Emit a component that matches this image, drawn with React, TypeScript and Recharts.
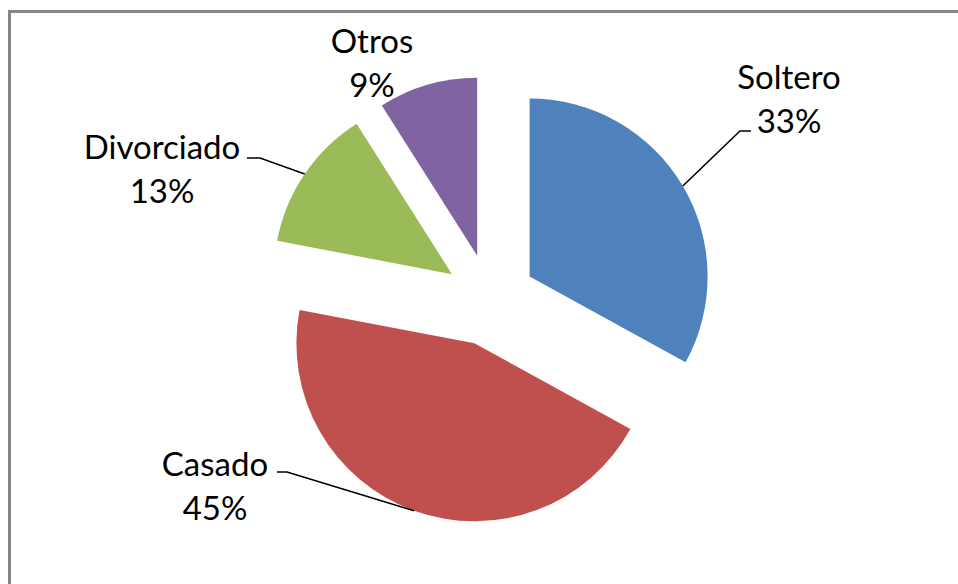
import { PieChart, Pie, Cell, Sector } from "recharts";

const categories = ["Soltero", "Casado", "Divorciado", "Otros"];
const shares = [33, 45, 13, 9];
const colors = ["#4F81BD", "#C0504D", "#9BBB59", "#8064A2"];

// label placement relative to the pie centre (Excel "best fit" look)
const labelSpots = [
  { dx: 299, dy: -202, elbow: [250, -169], end: [261, -169] },
  { dx: -275, dy: 185, elbow: [-203, 172], end: [-213, 172] },
  { dx: -328, dy: -132, elbow: [-230, -142], end: [-243, -142] },
  { dx: -118, dy: -238, elbow: null, end: null },
];

const data = categories.map((name, i) => ({ name, value: shares[i] }));

const EXPLODE = 46;
const RAD = Math.PI / 180;
const FONT = "Lato, 'Liberation Sans', sans-serif";

const ExplodedSlice = (props: any) => {
  const { cx, cy, midAngle, outerRadius, startAngle, endAngle, fill } = props;
  const ox = EXPLODE * Math.cos(-midAngle * RAD);
  const oy = EXPLODE * Math.sin(-midAngle * RAD);
  return (
    <Sector
      cx={cx + ox}
      cy={cy + oy}
      innerRadius={0}
      outerRadius={outerRadius}
      startAngle={startAngle}
      endAngle={endAngle}
      fill={fill}
      stroke="none"
    />
  );
};

const renderLabel = (props: any) => {
  const { cx, cy, midAngle, outerRadius, index, percent } = props;
  const spot = labelSpots[index];
  const r = outerRadius + EXPLODE;
  const sx = cx + r * Math.cos(-midAngle * RAD);
  const sy = cy + r * Math.sin(-midAngle * RAD);
  const tx = cx + spot.dx;
  const ty = cy + spot.dy;
  return (
    <g key={`lbl-${index}`}>
      {spot.elbow && spot.end && (
        <polyline
          points={`${sx},${sy} ${cx + spot.elbow[0]},${cy + spot.elbow[1]} ${cx + spot.end[0]},${cy + spot.end[1]}`}
          fill="none"
          stroke="#000"
          strokeWidth={1.6}
        />
      )}
      <text x={tx} y={ty - 22} textAnchor="middle" dominantBaseline="central" fontSize={33} fontFamily={FONT} fill="#000">
        {categories[index]}
      </text>
      <text x={tx} y={ty + 22} textAnchor="middle" dominantBaseline="central" fontSize={33} fontFamily={FONT} fill="#000">
        {`${Math.round(percent * 100)}%`}
      </text>
    </g>
  );
};

export default function App() {
  return (
    <div style={{ position: "fixed", left: 0, top: 0, width: 958, height: 584, overflow: "hidden", background: "#fff" }}>
      <div
        style={{
          position: "absolute",
          left: 8,
          top: 10,
          width: 1100,
          height: 800,
          borderLeft: "3px solid #868686",
          borderTop: "3px solid #868686",
        }}
      />
      <div style={{ position: "absolute", left: 0, top: 0 }}>
        <PieChart width={958} height={584} margin={{ top: 0, right: 0, bottom: 0, left: 0 }}>
          <Pie
            data={data}
            dataKey="value"
            nameKey="name"
            cx={490}
            cy={300}
            outerRadius={178}
            startAngle={90}
            endAngle={-270}
            shape={ExplodedSlice}
            label={renderLabel}
            labelLine={false}
            isAnimationActive={false}
          >
            {data.map((d, i) => (
              <Cell key={d.name} fill={colors[i]} />
            ))}
          </Pie>
        </PieChart>
      </div>
    </div>
  );
}
